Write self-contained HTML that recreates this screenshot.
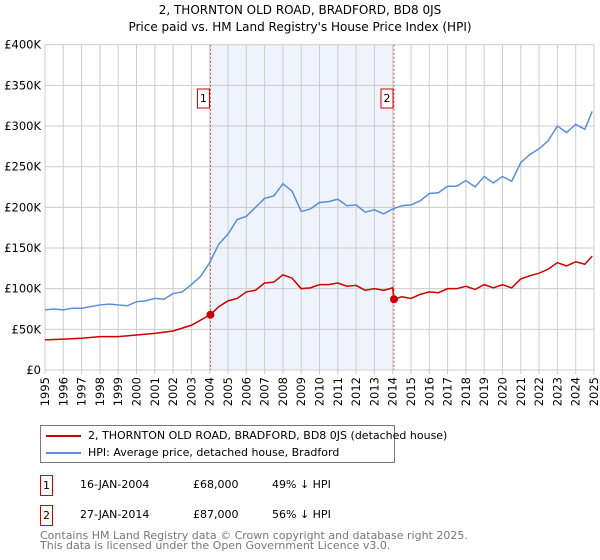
<!DOCTYPE html>
<html><head><meta charset="utf-8"><style>
body{margin:0;background:#fff;font-family:"DejaVu Sans","Liberation Sans",sans-serif;}
#wrap{position:relative;width:600px;height:560px;overflow:hidden}
.t{position:absolute;font-size:11px;color:#000;white-space:nowrap}
</style></head><body><div id="wrap">
<div class="t" style="left:0;width:600px;text-align:center;top:3px;font-size:12px">2, THORNTON OLD ROAD, BRADFORD, BD8 0JS</div>
<div class="t" style="left:0;width:600px;text-align:center;top:20px;font-size:12px">Price paid vs. HM Land Registry's House Price Index (HPI)</div>
<svg id="chart" width="600" height="420" style="position:absolute;left:0;top:0;font-family:'DejaVu Sans',sans-serif"></svg>
<div style="position:absolute;left:40px;top:425px;width:353px;height:36px;border:1px solid #777">
<div style="position:absolute;left:5px;top:9px;width:35px;height:2px;background:#cc0000"></div>
<div class="t" style="left:47px;top:3px">2, THORNTON OLD ROAD, BRADFORD, BD8 0JS (detached house)</div>
<div style="position:absolute;left:5px;top:26px;width:35px;height:2px;background:#5b8ed6"></div>
<div class="t" style="left:47px;top:20px">HPI: Average price, detached house, Bradford</div>
</div>
<div>
<div class="t" style="left:40px;top:475px;width:11px;height:19px;border:1px solid #cc0000;text-align:center;line-height:19px">1</div>
<div class="t" style="left:80px;top:478px">16-JAN-2004</div><div class="t" style="left:193px;top:478px">£68,000</div><div class="t" style="left:272px;top:478px">49% ↓ HPI</div></div>
<div>
<div class="t" style="left:40px;top:505px;width:11px;height:19px;border:1px solid #cc0000;text-align:center;line-height:19px">2</div>
<div class="t" style="left:80px;top:508px">27-JAN-2014</div><div class="t" style="left:193px;top:508px">£87,000</div><div class="t" style="left:272px;top:508px">56% ↓ HPI</div></div>
<div class="t" style="left:40px;top:531px;color:#777;line-height:10px">Contains HM Land Registry data © Crown copyright and database right 2025.<br>This data is licensed under the Open Government Licence v3.0.</div>
</div>
<script>
const hpiYears=[1995,1995.5,1996,1996.5,1997,1997.5,1998,1998.5,1999,1999.5,2000,2000.5,2001,2001.5,2002,2002.5,2003,2003.5,2004,2004.5,2005,2005.5,2006,2006.5,2007,2007.5,2008,2008.5,2009,2009.5,2010,2010.5,2011,2011.5,2012,2012.5,2013,2013.5,2014,2014.5,2015,2015.5,2016,2016.5,2017,2017.5,2018,2018.5,2019,2019.5,2020,2020.5,2021,2021.5,2022,2022.5,2023,2023.5,2024,2024.5,2024.9];
const hpiValues=[74,75,74,76,76,78,80,81,80,79,84,85,88,87,94,96,105,115,132,155,167,185,189,200,211,214,229,220,195,198,206,207,210,202,203,194,197,192,198,202,203,208,217,218,226,226,233,225,238,230,238,232,255,265,272,282,300,292,302,296,318];
const redYears=[1995,1996,1997,1998,1999,2000,2001,2002,2003,2004.04,2004.5,2005,2005.5,2006,2006.5,2007,2007.5,2008,2008.5,2009,2009.5,2010,2010.5,2011,2011.5,2012,2012.5,2013,2013.5,2014,2014.07,2014.5,2015,2015.5,2016,2016.5,2017,2017.5,2018,2018.5,2019,2019.5,2020,2020.5,2021,2021.5,2022,2022.5,2023,2023.5,2024,2024.5,2024.9];
const redValues=[37,38,39,41,41,43,45,48,55,68,78,85,88,96,98,107,108,117,113,100,101,105,105,107,103,104,98,100,98,101,87,90,88,93,96,95,100,100,103,99,105,101,105,101,112,116,119,124,132,128,133,130,140];
const saleYears=[2004.04,2014.07];
const saleValues=[68,87];
const saleLabels=["1","2"];
const yTicks=[0,50,100,150,200,250,300,350,400];
const yTickLabels=["£0","£50K","£100K","£150K","£200K","£250K","£300K","£350K","£400K"];
const xTicks=[1995,1996,1997,1998,1999,2000,2001,2002,2003,2004,2005,2006,2007,2008,2009,2010,2011,2012,2013,2014,2015,2016,2017,2018,2019,2020,2021,2022,2023,2024,2025];
const X0=45,X1=594,Y0=370,Y1=44.7;
const xs=y=>X0+(y-1995)/30*(X1-X0);
const ys=v=>Y0-v/400*(Y0-Y1);
const svg=document.getElementById('chart');const NS='http://www.w3.org/2000/svg';
function mk(t,a){const e=document.createElementNS(NS,t);for(const k in a)e.setAttribute(k,a[k]);svg.appendChild(e);return e;}
let sh=mk('rect',{x:xs(saleYears[0]),y:Y1,width:xs(saleYears[1])-xs(saleYears[0]),height:Y0-Y1,fill:'#eef3fc'});


xTicks.forEach(y=>{const l=mk('line',{x1:xs(y),x2:xs(y),y1:Y1,y2:Y0+4,stroke:'#ccc'});


const t=mk('text',{x:0,y:0,transform:`translate(${xs(y)+4},${Y0+7}) rotate(-90)`,'text-anchor':'end','font-size':'11.5'});t.textContent=y;

});
yTicks.forEach((v,i)=>{const l=mk('line',{x1:X0,x2:X1,y1:ys(v),y2:ys(v),stroke:'#ccc'});


const t=mk('text',{x:X0-4,y:ys(v)+4,'text-anchor':'end','font-size':'11.5'});t.textContent=yTickLabels[i];

});
saleYears.forEach((y,i)=>{const l=mk('line',{x1:xs(y),x2:xs(y),y1:Y1,y2:Y0,stroke:'#e05050','stroke-dasharray':'2,2'});


const r=mk('rect',{x:xs(y)-13,y:89,width:12,height:19,fill:'#fff',stroke:'#cc0000'});


const t=mk('text',{x:xs(y)-7,y:102,'text-anchor':'middle','font-size':'11'});t.textContent=saleLabels[i];

});
const hp=mk('polyline',{points:hpiYears.map((y,i)=>xs(y)+','+ys(hpiValues[i])).join(' '),fill:'none',stroke:'#5b8ed6','stroke-width':1.5});


const rp=mk('polyline',{points:redYears.map((y,i)=>xs(y)+','+ys(redValues[i])).join(' '),fill:'none',stroke:'#cc0000','stroke-width':1.5});


saleYears.forEach((y,i)=>{const c=mk('circle',{cx:xs(y),cy:ys(saleValues[i]),r:4,fill:'#cc0000'});

});
</script></body></html>
